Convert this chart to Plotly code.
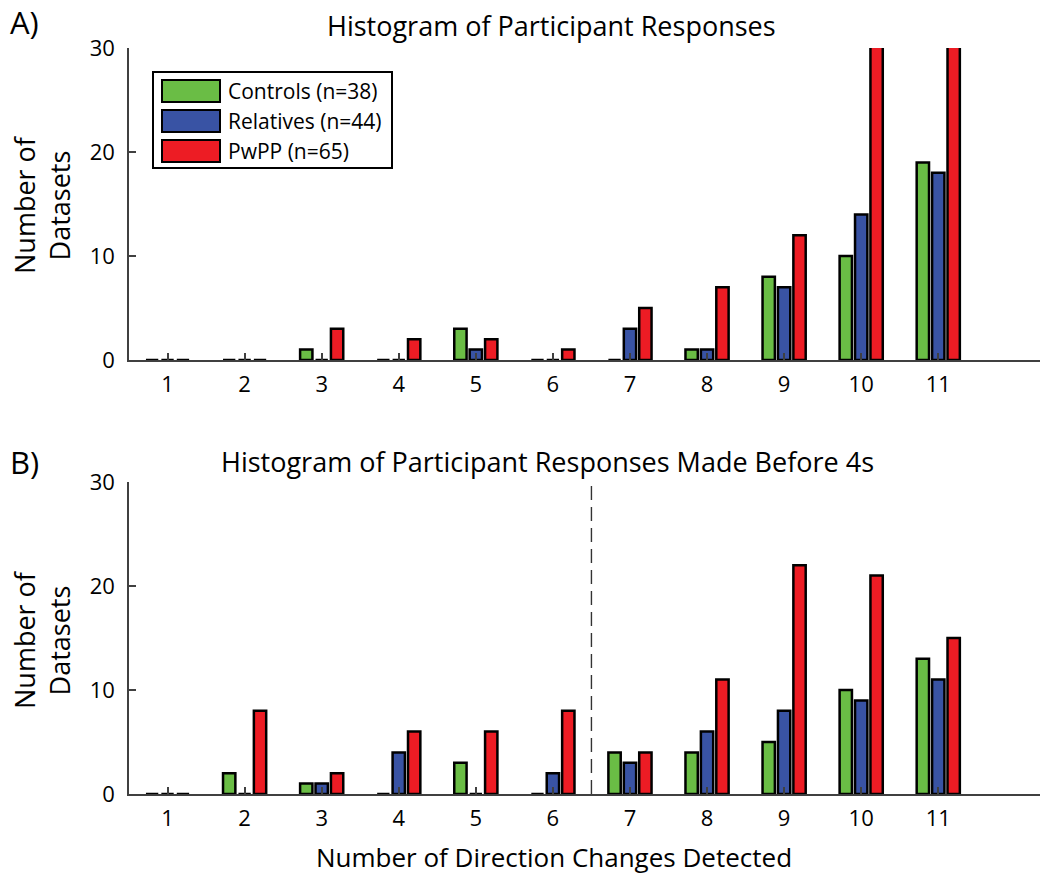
import plotly.graph_objects as go

# ---------------- data ----------------
categories = [1, 2, 3, 4, 5, 6, 7, 8, 9, 10, 11]
series_names = ["Controls (n=38)", "Relatives (n=44)", "PwPP (n=65)"]
series_colors = ["#6abd45", "#3953a4", "#ed1c24"]

# Panel A: all responses
a_controls = [0, 0, 1, 0, 3, 0, 0, 1, 8, 10, 19]
a_relatives = [0, 0, 0, 0, 1, 0, 3, 1, 7, 14, 18]
a_pwpp = [0, 0, 3, 2, 2, 1, 5, 7, 12, 34, 40]   # last two exceed the axis (clipped)

# Panel B: responses made before 4 s
b_controls = [0, 2, 1, 0, 3, 0, 4, 4, 5, 10, 13]
b_relatives = [0, 0, 1, 4, 0, 2, 3, 6, 8, 9, 11]
b_pwpp = [0, 8, 2, 6, 6, 8, 4, 11, 22, 21, 15]

y_ticks = [0, 10, 20, 30]
threshold_x = 6.5

title_a = "Histogram of Participant Responses"
title_b = "Histogram of Participant Responses Made Before 4s"
x_title = "Number of Direction Changes Detected"
y_title = "Number of<br>Datasets"

# ---------------- layout helpers (pixel -> paper) ----------------
W, H = 1040, 876
L, R, T, B = 129, 0, 48, 82
PW, PH = W - L - R, H - T - B


def px2x(px):
    return (px - L) / PW


def py2y(py):
    return (H - B - py) / PH


FONT = "Open Sans"
AXIS_COL = "#404040"

fig = go.Figure()

panels = [
    ("x", "y", [a_controls, a_relatives, a_pwpp]),
    ("x2", "y2", [b_controls, b_relatives, b_pwpp]),
]
for xa, ya, vals in panels:
    for name, col, v in zip(series_names, series_colors, vals):
        fig.add_trace(go.Bar(
            x=categories, y=v, name=name, xaxis=xa, yaxis=ya,
            marker=dict(color=col, line=dict(color="black", width=2.5)),
            showlegend=False, offsetgroup=name,
        ))

axis_common = dict(
    showline=True, linecolor=AXIS_COL, linewidth=1.5, ticks="inside",
    ticklen=7, tickwidth=1.5, tickcolor=AXIS_COL, showgrid=False,
    zeroline=False, tickfont=dict(family=FONT, size=22, color="black"),
)

xdom = [0, 1]
fig.update_layout(
    width=W, height=H,
    margin=dict(l=L, r=R, t=T, b=B),
    plot_bgcolor="white", paper_bgcolor="white",
    barmode="group", bargap=0.4, bargroupgap=0.2,
    font=dict(family=FONT, color="black"),
    xaxis=dict(domain=xdom, range=[0.5, 12.32], tickvals=categories,
               anchor="y", ticklabelstandoff=4, **axis_common),
    yaxis=dict(domain=[py2y(360), 1.0], range=[0, 30], tickvals=y_ticks,
               anchor="x", ticklabelstandoff=8, **axis_common),
    xaxis2=dict(domain=xdom, range=[0.5, 12.32], tickvals=categories,
                anchor="y2", ticklabelstandoff=4, **axis_common),
    yaxis2=dict(domain=[0.0, py2y(482)], range=[0, 30], tickvals=y_ticks,
                anchor="x2", ticklabelstandoff=8, **axis_common),
)

# dashed threshold line in panel B
fig.add_shape(type="line", xref="x2", yref="y2", x0=threshold_x, x1=threshold_x,
              y0=0, y1=30, line=dict(color="#333333", width=1.4, dash="14px,7px"))

ann = []
# panel letters and titles
ann.append(dict(text="A)", x=px2x(8), y=py2y(22), xanchor="left", yanchor="middle",
                font=dict(size=31)))
ann.append(dict(text=title_a, x=px2x(551), y=py2y(25), xanchor="center", yanchor="middle",
                font=dict(size=27)))
ann.append(dict(text="B)", x=px2x(8), y=py2y(462), xanchor="left", yanchor="middle",
                font=dict(size=31)))
ann.append(dict(text=title_b, x=px2x(547), y=py2y(462), xanchor="center", yanchor="middle",
                font=dict(size=27)))
# axis titles
for cy in (205, 640):
    ann.append(dict(text=y_title, x=px2x(42), y=py2y(cy), xanchor="center", yanchor="middle",
                    textangle=-90, font=dict(size=27)))
ann.append(dict(text=x_title, x=px2x(554), y=py2y(857), xanchor="center", yanchor="middle",
                font=dict(size=26)))

# custom legend (wide rectangular swatches as in the reference)
fig.add_shape(type="rect", xref="paper", yref="paper",
              x0=px2x(153), x1=px2x(392), y0=py2y(168), y1=py2y(72),
              line=dict(color="black", width=2), fillcolor="white", layer="above")
row_tops = [80, 110, 140]
for name, col, top in zip(series_names, series_colors, row_tops):
    fig.add_shape(type="rect", xref="paper", yref="paper",
                  x0=px2x(162), x1=px2x(220), y0=py2y(top + 22), y1=py2y(top),
                  line=dict(color="black", width=2), fillcolor=col, layer="above")
    ann.append(dict(text=name, x=px2x(226), y=py2y(top + 11), xanchor="left",
                    yanchor="middle", font=dict(size=21)))

for a in ann:
    a.update(xref="paper", yref="paper", showarrow=False)
fig.update_layout(annotations=ann)

fig.write_html("out.html", config={"displayModeBar": False},
               post_script="document.body.style.margin='0';document.body.style.overflow='hidden';")
